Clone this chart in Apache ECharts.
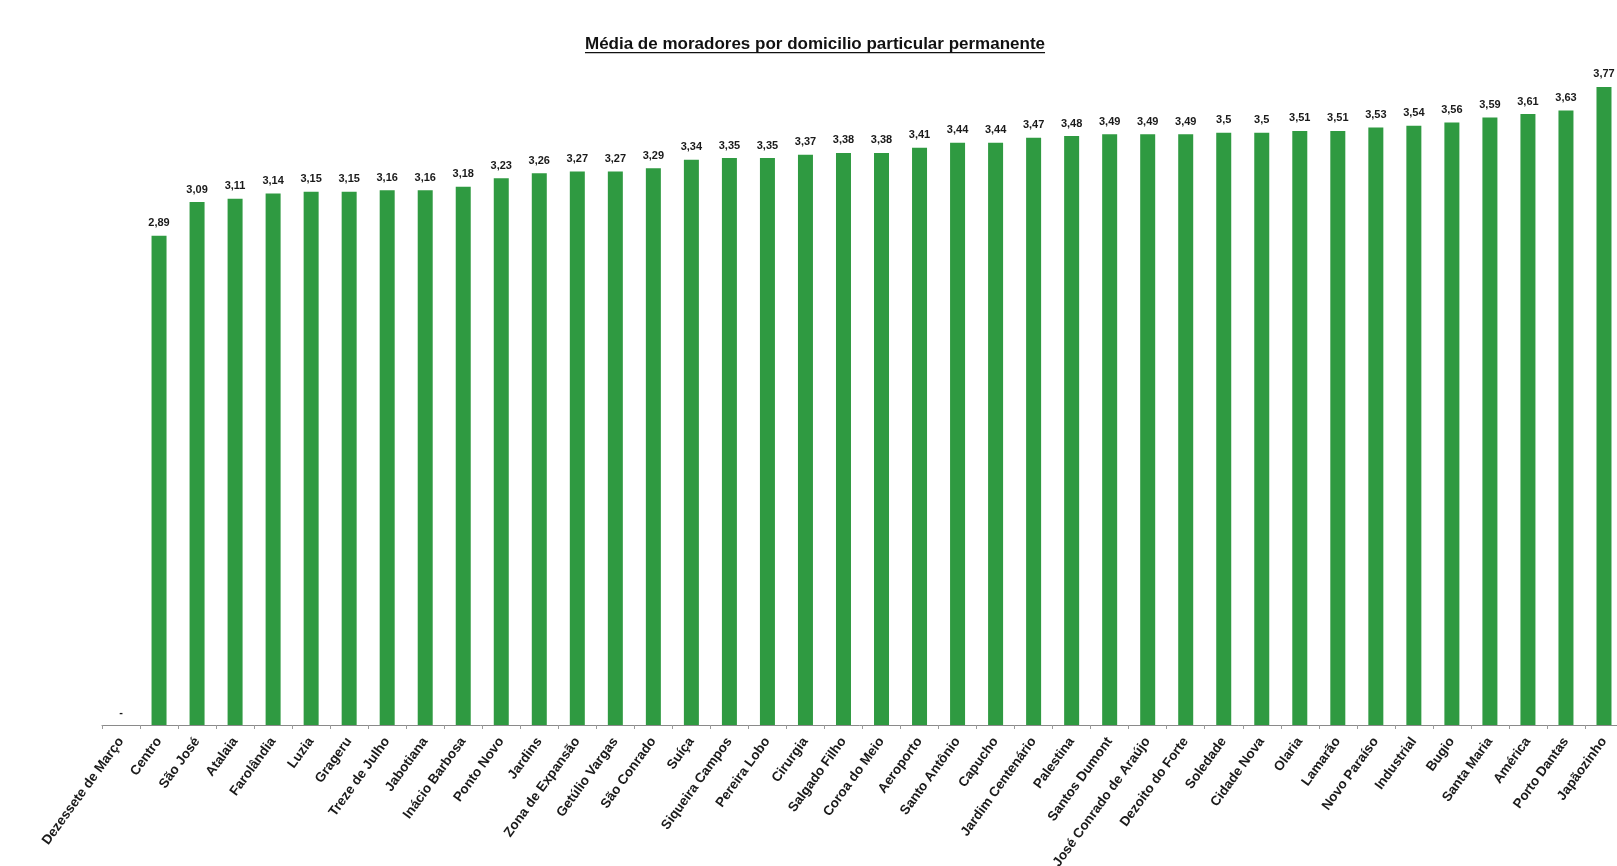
<!DOCTYPE html>
<html>
<head>
<meta charset="utf-8">
<script src="https://cdn.jsdelivr.net/npm/echarts@6/dist/echarts.min.js"></script>
<style>
html,body{margin:0;padding:0;background:#fff;}
#chart{width:1617px;height:866px;}
</style>
</head>
<body>
<div id="chart"></div>
<script>
const titleText = 'Média de moradores por domicilio particular permanente';
const categories = ['Dezessete de Março','Centro','São José','Atalaia','Farolândia','Luzia','Grageru','Treze de Julho','Jabotiana','Inácio Barbosa','Ponto Novo','Jardins','Zona de Expansão','Getúlio Vargas','São Conrado','Suíça','Siqueira Campos','Pereira Lobo','Cirurgia','Salgado Filho','Coroa do Meio','Aeroporto','Santo Antônio','Capucho','Jardim Centenário','Palestina','Santos Dumont','José Conrado de Araújo','Dezoito do Forte','Soledade','Cidade Nova','Olaria','Lamarão','Novo Paraíso','Industrial','Bugio','Santa Maria','América','Porto Dantas','Japãozinho'];
const mediaMoradores = [null,2.89,3.09,3.11,3.14,3.15,3.15,3.16,3.16,3.18,3.23,3.26,3.27,3.27,3.29,3.34,3.35,3.35,3.37,3.38,3.38,3.41,3.44,3.44,3.47,3.48,3.49,3.49,3.49,3.5,3.5,3.51,3.51,3.53,3.54,3.56,3.59,3.61,3.63,3.77];

const FONT = '"Liberation Sans", Arial, sans-serif';
const chart = echarts.init(document.getElementById('chart'));

// measure title width for the underline
const TITLE_SIZE = 17;
const TITLE_FONT = 'bold ' + TITLE_SIZE + 'px ' + FONT;
const cv = document.createElement('canvas').getContext('2d');
cv.font = TITLE_FONT;
const tw = cv.measureText(titleText).width;
const titleCx = 815;
const titleY = 44;

const seriesData = mediaMoradores.map(v => v === null ? {value: 0, missing: true} : {value: v});

chart.setOption({
  backgroundColor: '#ffffff',
  animation: false,
  graphic: [{
    type: 'text',
    x: titleCx, y: titleY,
    style: {text: titleText, font: TITLE_FONT, fill: '#111', align: 'center', verticalAlign: 'middle'}
  }, {
    type: 'rect',
    shape: {x: titleCx - tw / 2, y: titleY + 8, width: tw, height: 1.3},
    style: {fill: '#111'}
  }],
  grid: {left: 102, right: -6, top: 48, bottom: 141, containLabel: false, outerBoundsMode: 'none'},
  xAxis: {
    type: 'category',
    data: categories,
    boundaryGap: true,
    axisLine: {lineStyle: {color: '#8a8a8a', width: 1}},
    axisTick: {show: true, alignWithLabel: false, length: 4, lineStyle: {color: '#9a9a9a'}},
    axisLabel: {
      interval: 0, rotate: 54, margin: 14,
      fontFamily: FONT, fontSize: 13.5, fontWeight: 'bold', color: '#1a1a1a'
    }
  },
  yAxis: {
    type: 'value', min: 0, max: 4,
    show: false,
    splitLine: {show: false}
  },
  series: [{
    type: 'bar',
    data: seriesData,
    barWidth: 15,
    itemStyle: {color: '#2f9a41'},
    label: {
      show: true, position: 'top', distance: 7,
      fontFamily: FONT, fontSize: 11, fontWeight: 'bold', color: '#1a1a1a',
      formatter: p => p.data.missing ? '-' : String(p.value).replace('.', ',')
    }
  }]
});
</script>
</body>
</html>
